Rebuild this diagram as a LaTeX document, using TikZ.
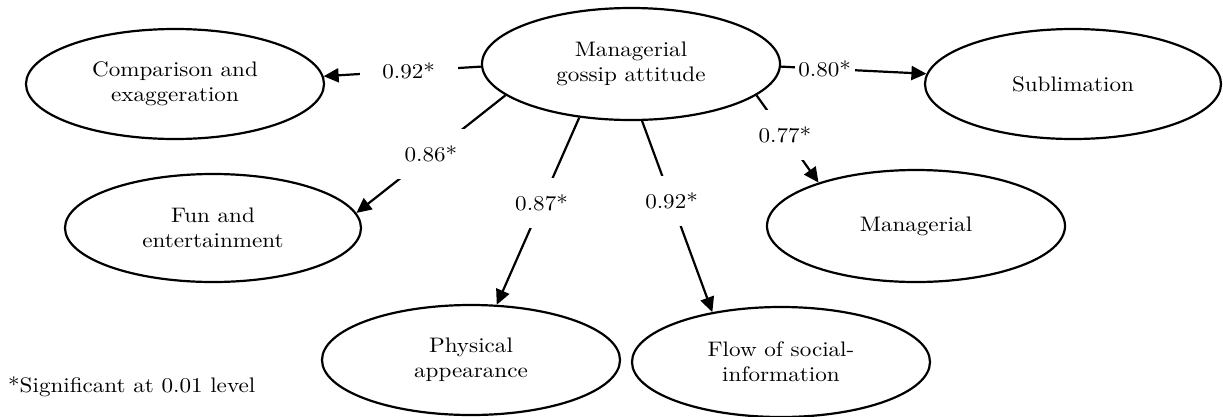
\documentclass[tikz,border=0pt]{standalone}
\usepackage{fontspec}
\setmainfont{lmroman10-regular}[Extension=.otf, FakeStretch=1.1]
\usetikzlibrary{shapes.geometric,arrows.meta}
\begin{document}
\begin{tikzpicture}[x=1pt,y=-1pt,
  every node/.style={font=\fontsize{21}{25}\selectfont},
  latent/.style={ellipse, draw, line width=2.2pt, minimum width=298pt, minimum height=110pt, inner sep=0pt, align=center},
  conn/.style={line width=2.2pt, -{Triangle[length=15pt,width=14pt]}},
  lbl/.style={fill=white, minimum width=98pt, minimum height=50pt, inner sep=0pt}]
\useasboundingbox (0,0) rectangle (1223,416);
\node[latent, minimum height=112pt] (G) at (631,64) {Managerial\\gossip attitude};
\node[latent] (C) at (175,84) {Comparison and\\exaggeration};
\node[latent, minimum width=296pt] (S) at (1073,84) {Sublimation};
\node[latent, minimum width=296pt, minimum height=108pt] (F) at (213,228) {Fun and\\entertainment};
\node[latent, minimum height=112pt] (M) at (916,226) {Managerial};
\node[latent] (P) at (471,360) {Physical\\appearance};
\node[latent] (W) at (781,362) {Flow of social-\\information};
\node[anchor=base west, inner sep=0pt] (note) at (8,392) {*Significant at 0.01 level};
\draw[conn] (G.181) -- node[lbl, pos=0.46] {0.92*} (C.3);
\draw[conn] (G.-1) -- node[lbl, pos=0.30, minimum width=60pt] {0.80*} (S.176.5);
\draw[conn] (G.194.7) -- node[lbl, pos=0.5] {0.86*} (F.6);
\draw[conn] (G.226) -- node[lbl, pos=0.457] {0.87*} (P.65.5);
\draw[conn] (G.-79) -- node[lbl, pos=0.42] {0.92*} (W.144.5);
\draw[conn] (G.-14.7) -- node[lbl, pos=0.458] {0.77*} (M.156);
\end{tikzpicture}
\end{document}
